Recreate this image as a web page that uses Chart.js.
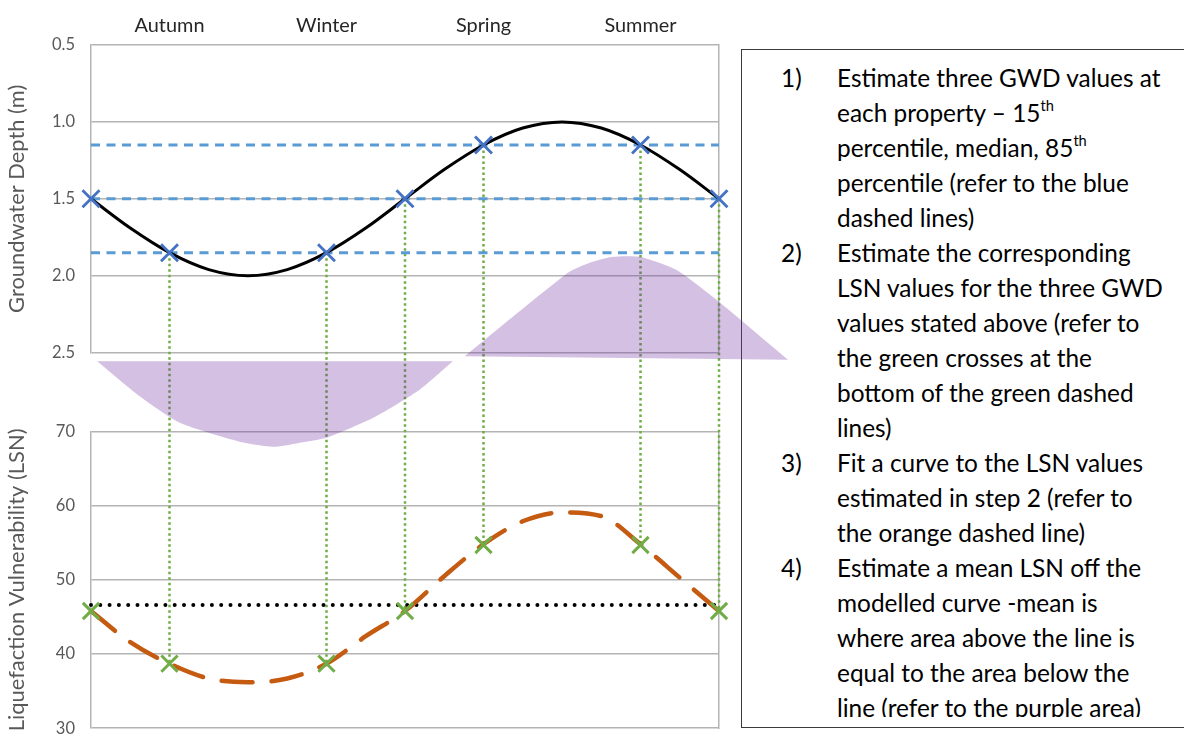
<!DOCTYPE html>
<html>
<head>
<meta charset="utf-8">
<script src="https://cdn.jsdelivr.net/npm/chart.js@4.4.0/dist/chart.umd.min.js"></script>
<style>
  html, body { margin:0; padding:0; background:#fff; width:1184px; height:743px; overflow:hidden; position:relative; }
  #box { position:absolute; left:741px; top:49px; width:480px; height:679px; border:1.5px solid #3a3a3a; box-sizing:border-box; }
  #clip { position:absolute; left:0; top:0; right:0; height:667px; overflow:hidden; }
  #notes { position:absolute; left:0; top:10px; font-family:Lato, sans-serif; line-height:35px; color:#000; white-space:nowrap; }
  .item { position:relative; padding-left:95px; }
  .num { position:absolute; left:39px; top:0; }
  sup { font-size:0.6em; line-height:0; vertical-align:0.75em; }
  #c { position:absolute; left:0; top:0; }
</style>
</head>
<body>
<div id="box"><div id="clip"><div id="notes">
  <div class="item"><span class="num">1)</span>Estimate three GWD values at<br>each property – 15<sup>th</sup><br>percentile, median, 85<sup>th</sup><br>percentile (refer to the blue<br>dashed lines)</div>
  <div class="item"><span class="num">2)</span>Estimate the corresponding<br>LSN values for the three GWD<br>values stated above (refer to<br>the green crosses at the<br>bottom of the green dashed<br>lines)</div>
  <div class="item"><span class="num">3)</span>Fit a curve to the LSN values<br>estimated in step 2 (refer to<br>the orange dashed line)</div>
  <div class="item"><span class="num">4)</span>Estimate a mean LSN off the<br>modelled curve -mean is<br>where area above the line is<br>equal to the area below the<br>line (refer to the purple area)</div>
</div></div></div>
<canvas id="c" width="1184" height="743"></canvas>
<script>
// ---------- data ----------
const seasons   = ['Autumn', 'Winter', 'Spring', 'Summer'];
const seasonT   = [1, 3, 5, 7];
const gwdTicks  = ['0.5', '1.0', '1.5', '2.0', '2.5'];
const lsnTicks  = ['30', '40', '50', '60', '70'];

const curveT    = [0, 0.5, 1, 1.5, 2, 2.5, 3, 3.5, 4, 4.5, 5, 5.5, 6, 6.5, 7, 7.5, 8];
const gwdCurve  = [1.50, 1.69, 1.85, 1.96, 2.00, 1.96, 1.85, 1.69, 1.50, 1.31, 1.15, 1.04, 1.00, 1.04, 1.15, 1.31, 1.50];
const lsnCurve  = [45.8, 41.6, 38.7, 36.7, 36.2, 36.7, 38.7, 42.4, 45.8, 50.5, 54.8, 57.9, 59.1, 58.6, 54.8, 50.3, 45.8];

const crossT    = [0, 1, 3, 4, 5, 7, 8];
const gwdCross  = [1.50, 1.85, 1.85, 1.50, 1.15, 1.15, 1.50];
const lsnCross  = [45.8, 38.7, 38.7, 45.8, 54.7, 54.7, 45.8];
const linkT     = [1, 3, 4, 5, 7, 8];

const gwdPercentiles = [1.15, 1.50, 1.85];
const meanLsn   = 46.6;

// purple "equal area" lobes (deviation from the mean, LSN units)
const belowT    = [0.08, 0.59, 1.13, 1.94, 2.32, 2.62, 3.01, 3.62, 4.19, 4.61];
const belowDev  = [-0.2, -4.2, -7.6, -10.0, -10.5, -10.1, -9.4, -6.9, -3.6, -0.2];
const aboveT    = [4.76, 6.08, 6.39, 6.65, 6.99, 7.46, 7.97, 8.88];
const aboveDev  = [0.4, 10.5, 11.8, 12.4, 12.4, 10.8, 7.2, 0.0];

// ---------- helpers ----------
const F = 'Lato';
function fitSize(text, target) {
  const c = document.createElement('canvas').getContext('2d');
  c.font = '100px ' + F;
  return Math.round(1000 * target / c.measureText(text).width) / 10;
}
const tickSize   = fitSize('0.5', 23);
const seasonSize = fitSize('Autumn', 70);
const titleSize  = fitSize('Groundwater Depth (m)', 228);
document.getElementById('notes').style.fontSize = fitSize('Estimate three GWD values at', 324) + 'px';

const pts = (xs, ys) => xs.map((x, i) => ({x: x, y: ys[i]}));
const flat = (v) => [{x: 0, y: v}, {x: 8, y: v}];

const grey = '#B4B4B4';
const tickCol = '#595959';
const purple = 'rgba(112,48,160,0.3)';

// green drop lines (GWD value -> LSN value) and purple lobes, both through the chart scales
const overlays = {
  id: 'overlays',
  beforeDatasetsDraw(chart) {
    const {ctx, scales} = chart;
    ctx.save();
    ctx.strokeStyle = '#70AD47';
    ctx.lineWidth = 2.5;
    ctx.setLineDash([2.5, 3]);
    linkT.forEach(tv => {
      const i = crossT.indexOf(tv);
      const x = scales.x.getPixelForValue(tv);
      ctx.beginPath();
      ctx.moveTo(x, scales.yGWD.getPixelForValue(gwdCross[i]));
      ctx.lineTo(x, scales.yLSN.getPixelForValue(lsnCross[i]));
      ctx.stroke();
    });
    ctx.setLineDash([]);
    ctx.fillStyle = purple;
    chart.data.datasets.forEach((ds, di) => {
      if (!ds.lobe) return;
      const line = chart.getDatasetMeta(di).dataset;
      ctx.beginPath();
      line.path(ctx);
      ctx.closePath();
      ctx.fill();
    });
    ctx.restore();
  }
};

const base = {xAxisID: 'x', clip: false, pointRadius: 0, fill: false};

const datasets = [
  Object.assign({}, base, {lobe: true, data: pts(belowT, belowDev), yAxisID: 'yArea',
    borderColor: 'rgba(0,0,0,0)', borderWidth: 0.01, tension: 0.2, capBezierPoints: false}),
  Object.assign({}, base, {lobe: true, data: pts(aboveT, aboveDev), yAxisID: 'yArea',
    borderColor: 'rgba(0,0,0,0)', borderWidth: 0.01, tension: 0.2, capBezierPoints: false}),
  Object.assign({}, base, {data: pts(crossT, lsnCross), yAxisID: 'yLSN', showLine: false,
    pointStyle: 'crossRot', pointRadius: 11.5, pointBorderWidth: 3, pointBorderColor: '#70AD47', pointBackgroundColor: '#70AD47'}),
  Object.assign({}, base, {data: pts(crossT, gwdCross), yAxisID: 'yGWD', showLine: false,
    pointStyle: 'crossRot', pointRadius: 12, pointBorderWidth: 2.8, pointBorderColor: '#4472C4', pointBackgroundColor: '#4472C4'}),
  Object.assign({}, base, {data: pts(curveT, lsnCurve), yAxisID: 'yLSN', borderColor: '#C55A11',
    borderWidth: 4.5, borderDash: [31, 19], borderCapStyle: 'round', cubicInterpolationMode: 'monotone'}),
  Object.assign({}, base, {data: flat(meanLsn), yAxisID: 'yLSN', borderColor: '#000',
    borderWidth: 4, borderDash: [0, 9.3], borderCapStyle: 'round'}),
  Object.assign({}, base, {data: pts(curveT, gwdCurve), yAxisID: 'yGWD', borderColor: '#000',
    borderWidth: 3, cubicInterpolationMode: 'monotone'})
].concat(gwdPercentiles.map(v => Object.assign({}, base, {data: flat(v), yAxisID: 'yGWD',
    borderColor: '#5B9BD5', borderWidth: 3, borderDash: [9, 6.5]})));

const titleFont = {family: F, size: titleSize};
const tickFont = {family: F, size: tickSize};
const fitLeft = s => { s.width = 91; s.paddingTop = 0; s.paddingBottom = 0; };

new Chart(document.getElementById('c'), {
  type: 'line',
  data: {datasets: datasets},
  options: {
    responsive: false,
    animation: false,
    devicePixelRatio: 1,
    events: [],
    layout: {padding: {left: 0, top: 0, right: 465, bottom: 14}},
    plugins: {legend: {display: false}, tooltip: {enabled: false}},
    scales: {
      x: {type: 'linear', min: 0, max: 8, display: false},
      xTop: {
        type: 'linear', position: 'top', min: 0, max: 8,
        grid: {display: false, drawTicks: false}, border: {display: false},
        afterBuildTicks: s => { s.ticks = seasonT.map(v => ({value: v})); },
        afterFit: s => { s.height = 45; s.paddingLeft = 0; s.paddingRight = 0; },
        ticks: {autoSkip: false, maxRotation: 0, padding: 7, color: '#262626',
          font: {family: F, size: seasonSize}, callback: (v, i) => seasons[i]}
      },
      yGWD: {
        type: 'linear', position: 'left', stack: 'L', stackWeight: 308, weight: 3,
        reverse: true, min: 0.5, max: 2.5,
        afterBuildTicks: s => { s.ticks = gwdTicks.map(v => ({value: parseFloat(v)})); },
        afterFit: fitLeft,
        grid: {color: grey, lineWidth: 1.5, drawTicks: false},
        border: {display: true, color: grey, width: 1.5},
        ticks: {color: tickCol, font: tickFont, padding: 16, autoSkip: false, callback: (v, i) => gwdTicks[i]},
        title: {display: true, text: 'Groundwater Depth (m)', color: tickCol, font: titleFont, padding: {top: 4, bottom: 0}}
      },
      yGap: {type: 'linear', position: 'left', stack: 'L', stackWeight: 79, weight: 2, display: false,
        afterFit: fitLeft},
      yLSN: {
        type: 'linear', position: 'left', stack: 'L', stackWeight: 297, weight: 1,
        min: 30, max: 70,
        afterBuildTicks: s => { s.ticks = lsnTicks.map(v => ({value: parseFloat(v)})); },
        afterFit: fitLeft,
        grid: {color: grey, lineWidth: 1.5, drawTicks: false},
        border: {display: true, color: grey, width: 1.5},
        ticks: {color: tickCol, font: tickFont, padding: 16, autoSkip: false, callback: (v, i) => lsnTicks[i]},
        title: {display: true, text: 'Liquefaction Vulnerability (LSN)', color: tickCol, font: titleFont, padding: {top: 4, bottom: 0}}
      },
      yArea: {type: 'linear', position: 'left', display: false, min: -44.45, max: 37.95, weight: 0},
      rGWD: {type: 'linear', position: 'right', stack: 'R', stackWeight: 308, weight: 1,
        grid: {display: false, drawTicks: false}, ticks: {display: false},
        border: {display: true, color: grey, width: 1.5}, afterFit: s => { s.width = 0; s.paddingTop = 0; s.paddingBottom = 0; }},
      rGap: {type: 'linear', position: 'right', stack: 'R', stackWeight: 79, weight: 2, display: false,
        afterFit: s => { s.width = 0; }},
      rLSN: {type: 'linear', position: 'right', stack: 'R', stackWeight: 297, weight: 3,
        grid: {display: false, drawTicks: false}, ticks: {display: false},
        border: {display: true, color: grey, width: 1.5}, afterFit: s => { s.width = 0; s.paddingTop = 0; s.paddingBottom = 0; }}
    }
  },
  plugins: [overlays]
});
</script>
</body>
</html>
